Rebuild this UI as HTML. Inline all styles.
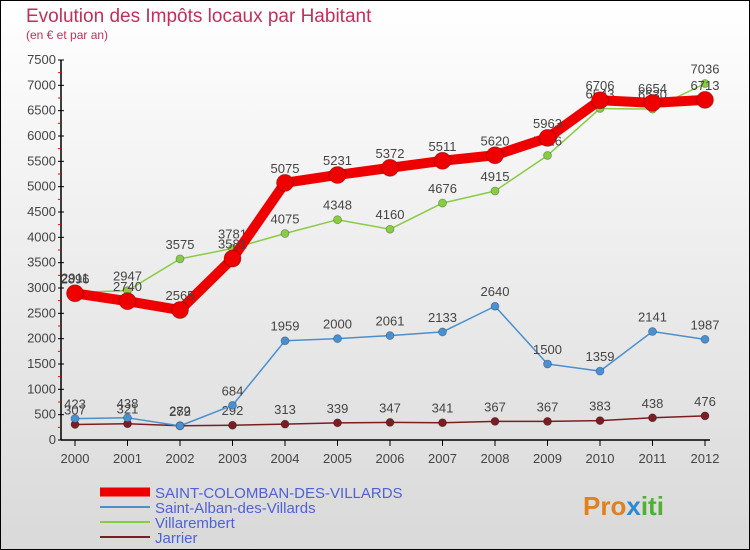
<!DOCTYPE html>
<html><head><meta charset="utf-8"><style>
body{margin:0;}
#wrap{width:750px;height:550px;position:relative;overflow:hidden;}
</style></head><body>
<div id="wrap">
<svg id="svg" width="750" height="550" xmlns="http://www.w3.org/2000/svg" font-family="'Liberation Sans', sans-serif">
<defs><linearGradient id="bg" x1="0" y1="0" x2="0" y2="1"><stop offset="0" stop-color="#ffffff"/><stop offset="1" stop-color="#d9d9d9"/></linearGradient></defs>
<rect x="0.5" y="0.5" width="749" height="549" fill="url(#bg)" stroke="#000"/>
<text x="26" y="22" font-size="19" fill="#c0305a">Evolution des Impôts locaux par Habitant</text>
<text x="26" y="39" font-size="12" fill="#c0305a">(en € et par an)</text>
<g id="axes"></g><g id="series"></g><g id="legend"></g>
<text x="583" y="515" font-size="26" font-weight="bold" fill="#e08020">Pro<tspan fill="#2a8ad8">x</tspan><tspan fill="#50b030">iti</tspan></text>
</svg>
</div>
<script>
const years=["2000","2001","2002","2003","2004","2005","2006","2007","2008","2009","2010","2011","2012"];
const yTicks=[0,500,1000,1500,2000,2500,3000,3500,4000,4500,5000,5500,6000,6500,7000,7500];
const colomban=[2896,2740,2565,3581,5075,5231,5372,5511,5620,5963,6706,6654,6713];
const alban=[423,438,279,684,1959,2000,2061,2133,2640,1500,1359,2141,1987];
const villarembert=[2911,2947,3575,3781,4075,4348,4160,4676,4915,5616,6543,6530,7036];
const jarrier=[307,321,282,292,313,339,347,341,367,367,383,438,476];
const NS="http://www.w3.org/2000/svg";
const X=i=>75+i*52.5, Y=v=>440-v*380/7500;
function mk(p,t,a){const e=document.createElementNS(NS,t);for(const k in a)e.setAttribute(k,a[k]);p.appendChild(e);return e;}
const ax=document.getElementById('axes');
let l=mk(ax,'line',{x1:61,y1:Y(7500),x2:61,y2:440,stroke:'#000','stroke-width':1.5});


l=mk(ax,'line',{x1:61,y1:440,x2:710,y2:440,stroke:'#000','stroke-width':1.5});


yTicks.forEach(v=>{
 mk(ax,'line',{x1:58,y1:Y(v),x2:64,y2:Y(v),stroke:'#000'});
 if(v<7500) mk(ax,'line',{x1:58,y1:Y(v+250),x2:61,y2:Y(v+250),stroke:'#e00'});
 const t=mk(ax,'text',{x:56,y:Y(v)+4,'text-anchor':'end','font-size':13,fill:'#444'});
 t.textContent=v;
 
 
});
years.forEach((y,i)=>{
 mk(ax,'line',{x1:X(i),y1:440,x2:X(i),y2:446,stroke:'#000'});
 const t=mk(ax,'text',{x:X(i),y:463,'text-anchor':'middle','font-size':13,fill:'#444'});
 t.textContent=y;
 
 
});
const sg=document.getElementById('series');
function series(d,color,w,r,name){
 const g=mk(sg,'g',{});
 
 
 mk(g,'polyline',{points:d.map((v,i)=>X(i)+','+Y(v)).join(' '),fill:'none',stroke:color,'stroke-width':w,'stroke-linejoin':'round'});
 d.forEach((v,i)=>{
  const c=mk(g,'circle',{cx:X(i),cy:Y(v),r:r,fill:color,stroke:'rgba(0,0,0,0.3)','stroke-width':0.8});
  
  
  const t=mk(g,'text',{x:X(i),y:Y(v)-10,'text-anchor':'middle','font-size':13,fill:'#444'});
  t.textContent=v;
  
  
 });
}
series(jarrier,'#7a1e24',1.5,4,'series-jarrier');
series(alban,'#4a90d0',1.5,4,'series-saint-alban');
series(villarembert,'#88cc44',1.5,4,'series-villarembert');
series(colomban,'#ee0000',10,8.5,'series-saint-colomban');
const lg=document.getElementById('legend');
[["SAINT-COLOMBAN-DES-VILLARDS",'#ee0000',9],["Saint-Alban-des-Villards",'#4a90d0',2],["Villarembert",'#88cc44',2],["Jarrier",'#7a1e24',2]].forEach((e,i)=>{
 const y=492+i*15;
 const g=mk(lg,'g',{});
 
 
 mk(g,'line',{x1:100,y1:y,x2:150,y2:y,stroke:e[1],'stroke-width':e[2]});
 const t=mk(g,'text',{x:155,y:y+6,'font-size':15,fill:'#5060d8'});
 t.textContent=e[0];
});
</script>
</body></html>
